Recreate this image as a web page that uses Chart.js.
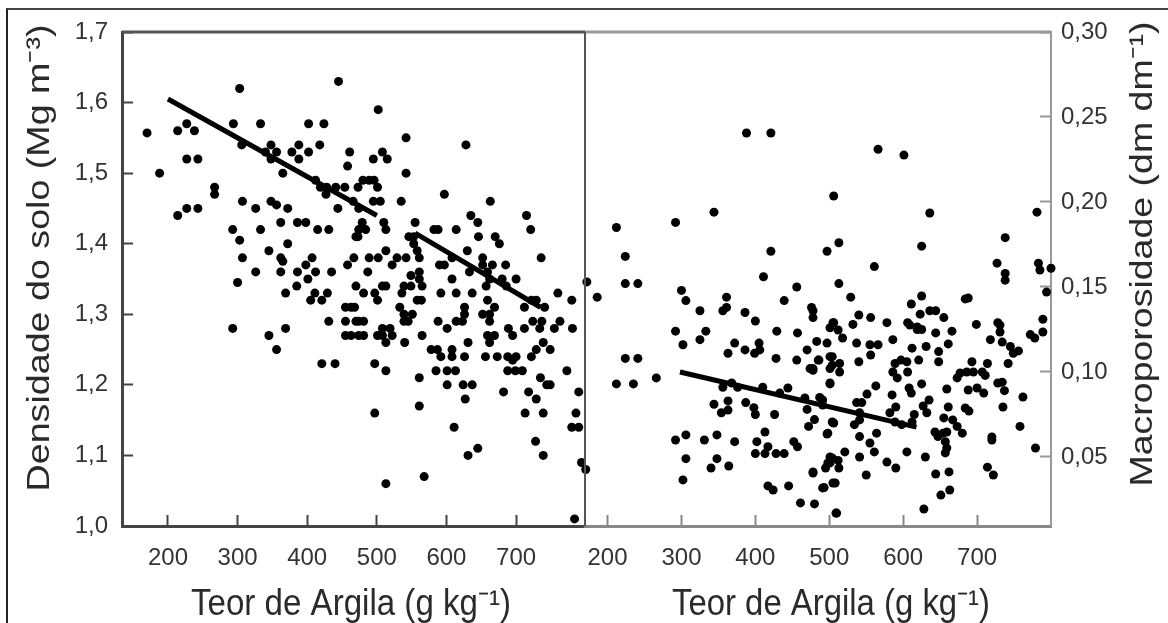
<!DOCTYPE html>
<html>
<head>
<meta charset="utf-8">
<title>Densidade do solo e macroporosidade</title>
<script src="https://cdn.jsdelivr.net/npm/chart.js@4/dist/chart.umd.min.js"></script>
<style>
html, body { margin: 0; padding: 0; background: #fff; overflow: hidden; }
#frame { position: absolute; left: 6px; top: 8px; width: 1162px; height: 615px; border-left: 2px solid #222; border-top: 2px solid #444; box-sizing: border-box; }
#chart { position: absolute; left: 0; top: 0; filter: blur(0.6px); }
</style>
</head>
<body>
<div id="frame"></div>
<canvas id="chart" width="1168" height="623"></canvas>
<script>
// left panel
var argilaDensidade = [
  170,188,214,227,238,227,243,267,267,294,
  303,333,306,348,340,356,348,378,388,388,
  402,424,402,418,365,412,428,307,326,348,
  356,372,227,243,214,444,466,474,293,333,
  362,386,398,415,431,303,372,307,345,362,
  365,407,398,326,362,386,412,435,401,300,
  385,369,411,429,405,421,455,468,431,455,
  470,455,474,293,369,345,356,421,440,467,
  458,470,470,445,502,461,458,495,508,515,
  542,542,628,597,663,535,495,505,419,441,
  454,473,480,489,496,501,427,479,510,484,
  474,473,513,555,582,588,614,635,645,646,
  715,721,670,676,630,736,546,553,553,558,
  561,513,489,502,522,529,542,487,590,597,
  608,652,666,685,652,608,561,549,549,561,
  565,539,508,513,633,659,680,700,662,657,
  686,481,497,501,536,558,564,592,614,637,
  463,533,539,551,545,539,481,474,481,463,
  501,508,519,508,522,513,540,565,659,669,
  626,626,623,614,588,601,652,662,662,712,
  722,729,741,760,780,724,737,734,712,763,
  755,781,689,695,659,669,631,662,739,729,
  749,722,656,673,688,700,695,626,608,608,
  592,578,587,585,601,613,688,699,709,773,
  735,744,749,561,601,624,637,627,682,718,
  729,790,497,513,561,497,713,739,786,780,
  790,611,728,739,645,631,794,800,568,513,
  784
];
var densidade = [
  1.557,1.50,1.56,1.57,1.56,1.52,1.52,1.48,1.47,1.57,
  1.62,1.57,1.54,1.54,1.53,1.53,1.52,1.53,1.54,1.52,
  1.57,1.57,1.53,1.54,1.50,1.49,1.48,1.46,1.45,1.46,
  1.455,1.45,1.45,1.45,1.44,1.45,1.46,1.45,1.42,1.42,
  1.43,1.43,1.43,1.42,1.42,1.405,1.40,1.38,1.39,1.38,
  1.375,1.38,1.37,1.36,1.36,1.36,1.36,1.36,1.35,1.345,
  1.34,1.33,1.33,1.33,1.32,1.32,1.31,1.31,1.29,1.29,
  1.29,1.27,1.27,1.28,1.28,1.27,1.25,1.23,1.23,1.38,
  1.37,1.34,1.41,1.63,1.59,1.53,1.51,1.52,1.53,1.52,
  1.55,1.50,1.54,1.47,1.46,1.46,1.46,1.46,1.48,1.48,
  1.48,1.48,1.49,1.49,1.49,1.48,1.47,1.43,1.43,1.42,
  1.42,1.41,1.42,1.43,1.42,1.42,1.42,1.44,1.43,1.41,
  1.44,1.42,1.41,1.40,1.39,1.38,1.41,1.41,1.40,1.39,
  1.38,1.39,1.38,1.38,1.37,1.38,1.38,1.36,1.37,1.37,
  1.38,1.38,1.37,1.37,1.37,1.35,1.36,1.355,1.34,1.35,
  1.34,1.34,1.34,1.34,1.36,1.36,1.35,1.35,1.35,1.34,
  1.34,1.33,1.33,1.32,1.33,1.32,1.32,1.33,1.33,1.33,
  1.31,1.31,1.30,1.30,1.29,1.29,1.29,1.29,1.27,1.27,
  1.27,1.28,1.28,1.27,1.27,1.26,1.26,1.27,1.32,1.31,
  1.31,1.30,1.29,1.29,1.29,1.28,1.30,1.30,1.29,1.31,
  1.32,1.32,1.31,1.33,1.32,1.29,1.29,1.28,1.28,1.29,
  1.28,1.28,1.28,1.27,1.27,1.27,1.26,1.26,1.26,1.25,
  1.25,1.24,1.24,1.24,1.24,1.24,1.235,1.24,1.25,1.24,
  1.24,1.25,1.25,1.22,1.22,1.22,1.22,1.22,1.22,1.22,
  1.21,1.20,1.20,1.21,1.20,1.20,1.20,1.18,1.19,1.19,
  1.18,1.19,1.23,1.22,1.17,1.16,1.16,1.16,1.16,1.14,
  1.14,1.14,1.12,1.10,1.11,1.10,1.09,1.08,1.07,1.06,
  1.01
];
// right panel
var argilaMacro = [
  388,421,344,292,212,224,224,241,300,306,
  186,172,411,421,456,439,361,361,325,356,
  386,476,400,478,478,501,505,292,302,333,
  325,372,363,386,405,406,399,429,457,428,
  456,483,497,470,486,474,478,501,501,501,
  224,241,266,212,235,356,368,376,410,433,
  444,467,344,363,363,354,387,398,400,426,
  470,480,472,487,491,504,498,306,292,331,
  348,372,402,413,417,400,413,428,439,452,
  457,306,348,340,364,302,417,424,445,461,
  480,491,478,495,501,505,509,501,566,601,
  506,636,781,513,497,625,738,561,727,783,
  785,800,738,738,513,529,794,625,611,684,
  688,623,636,644,655,540,556,578,532,506,
  606,619,699,728,789,731,731,772,778,789,
  666,644,625,609,619,512,518,718,734,745,
  756,749,742,586,537,555,566,556,540,612,
  631,661,648,648,621,597,589,605,586,592,
  606,504,504,514,514,485,478,501,693,714,
  686,695,707,677,711,673,734,728,737,762,
  735,758,720,720,779,659,625,608,611,563,
  551,585,537,544,491,688,700,709,684,689,
  661,635,627,632,590,582,615,612,541,534,
  541,589,598,655,667,673,680,643,654,647,
  659,657,659,657,564,541,555,561,605,630,
  578,590,521,541,506,497,504,512,498,513,
  478,550,508,493,510,644,662,663,651,628,
  714,722
];
var macroporosidade = [
  0.2406,0.2406,0.194,0.188,0.185,0.168,0.152,0.152,0.148,0.142,
  0.144,0.153,0.156,0.171,0.150,0.142,0.144,0.138,0.136,0.136,
  0.135,0.138,0.130,0.136,0.132,0.126,0.129,0.124,0.116,0.124,
  0.119,0.117,0.111,0.113,0.117,0.113,0.111,0.124,0.123,0.108,
  0.107,0.118,0.117,0.113,0.107,0.102,0.102,0.109,0.102,0.0935,
  0.108,0.108,0.0965,0.093,0.093,0.091,0.0935,0.091,0.091,0.0876,
  0.0906,0.0847,0.081,0.083,0.0776,0.076,0.082,0.079,0.075,0.075,
  0.078,0.072,0.068,0.085,0.0806,0.0706,0.064,0.063,0.06,0.06,
  0.063,0.059,0.059,0.0647,0.056,0.052,0.052,0.052,0.052,0.059,
  0.056,0.049,0.049,0.0435,0.0447,0.0365,0.033,0.0306,0.033,0.023,
  0.0224,0.0318,0.0412,0.0435,0.05,0.0347,0.017,0.0465,0.231,0.2276,
  0.2035,0.1935,0.194,0.176,0.171,0.174,0.179,0.162,0.164,0.164,
  0.16,0.161,0.158,0.154,0.152,0.144,0.147,0.1447,0.14,0.143,
  0.1435,0.134,0.136,0.136,0.132,0.1335,0.132,0.129,0.128,0.129,
  0.129,0.1265,0.128,0.129,0.131,0.1276,0.1235,0.122,0.12,0.1235,
  0.124,0.123,0.125,0.1276,0.125,0.1247,0.12,0.119,0.1176,0.115,
  0.1124,0.111,0.105,0.119,0.117,0.116,0.116,0.11,0.106,0.114,
  0.115,0.1165,0.112,0.106,0.107,0.107,0.105,0.106,0.10,0.0965,
  0.10,0.109,0.104,0.105,0.10,0.107,0.101,0.093,0.106,0.105,
  0.10,0.10,0.10,0.0994,0.098,0.0965,0.094,0.0935,0.089,0.0853,
  0.0794,0.068,0.0618,0.06,0.0553,0.09,0.093,0.0906,0.0876,0.0918,
  0.087,0.0865,0.082,0.082,0.0835,0.0894,0.0906,0.0876,0.0788,0.077,
  0.0794,0.0835,0.08,0.076,0.0794,0.076,0.075,0.0706,0.076,0.069,
  0.0718,0.0706,0.069,0.073,0.0718,0.068,0.064,0.0647,0.064,0.062,
  0.0647,0.059,0.0553,0.0524,0.064,0.062,0.0582,0.053,0.053,0.05,
  0.047,0.0435,0.053,0.05,0.07,0.0635,0.0494,0.048,0.0465,0.0435,
  0.0406,0.0394,0.0347,0.032,0.017,0.04,0.0412,0.0306,0.0276,0.0194,
  0.044,0.0394
];
// fitted lines (left one has a break in the original)
var retaDensidadeX = [200, 500, 530, 555, 735];
var retaDensidadeY = [1.605, 1.44, null, 1.415, 1.31];
var retaMacroX = [298, 618];
var retaMacroY = [0.10, 0.0676];

var xTicks = [200, 300, 400, 500, 600, 700];
var densidadeTicks = [1.0, 1.1, 1.2, 1.3, 1.4, 1.5, 1.6, 1.7];
var macroTicks = [0.05, 0.10, 0.15, 0.20, 0.25, 0.30];

var tituloX = 'Teor de Argila (g kg\u207B\u00B9)';
var tituloDensidade = 'Densidade do solo (Mg m\u207B\u00B3)';
var tituloMacro = 'Macroporosidade (dm dm\u207B\u00B9)';

function pairs(xs, ys) {
  return xs.map(function (x, i) {
    return { x: x, y: ys[i] };
  });
}

function dots(xs, ys, xAxis, yAxis) {
  return {
    data: pairs(xs, ys),
    xAxisID: xAxis,
    yAxisID: yAxis,
    backgroundColor: '#000',
    borderWidth: 0,
    pointRadius: 4.5,
    clip: false
  };
}

function reta(xs, ys, xAxis, yAxis) {
  return {
    data: pairs(xs, ys),
    xAxisID: xAxis,
    yAxisID: yAxis,
    showLine: true,
    spanGaps: false,
    borderColor: '#000',
    borderWidth: 5,
    pointRadius: 0
  };
}

function fixTicks(list) {
  return function (scale) {
    scale.ticks = list.map(function (v) {
      return { value: v };
    });
  };
}

// no extra room for the outer tick labels, the plot box is fixed
function fitBox(scale, width, height) {
  if (width) scale.width = width;
  if (height) scale.height = height;
  scale.paddingTop = 0;
  scale.paddingBottom = 0;
  scale.paddingLeft = 0;
  scale.paddingRight = 0;
}

function xScale(weight, color) {
  return {
    type: 'linear',
    position: 'bottom',
    stack: 'argila',
    stackWeight: weight,
    afterBuildTicks: fixTicks(xTicks),
    afterFit: function (scale) { fitBox(scale, 0, 97); },
    border: { color: color, width: 3 },
    grid: { drawOnChartArea: false, tickLength: -11, tickColor: color, tickWidth: 2 },
    ticks: { color: '#333', font: { size: 24 }, padding: 29, maxRotation: 0, autoSkip: false }
  };
}

// the source image is stretched, so titles are fitted to a given length
function drawTitle(ctx, text, x, y, angle, size, length) {
  ctx.save();
  ctx.translate(x, y);
  ctx.rotate(angle);
  ctx.font = size + 'px "Liberation Sans"';
  ctx.scale(length / ctx.measureText(text).width, 1);
  ctx.fillStyle = '#2a2a2a';
  ctx.textAlign = 'center';
  ctx.textBaseline = 'alphabetic';
  ctx.fillText(text, 0, 0);
  ctx.restore();
}

function strokeLine(ctx, color, width, x1, y1, x2, y2) {
  ctx.lineWidth = width;
  ctx.strokeStyle = color;
  ctx.beginPath();
  ctx.moveTo(x1, y1);
  ctx.lineTo(x2, y2);
  ctx.stroke();
}

// top edge, panel divider and axis titles
var panelFrame = {
  id: 'panelFrame',
  afterDraw: function (chart) {
    var ctx = chart.ctx;
    var area = chart.chartArea;
    var split = chart.scales.x2.left;
    ctx.save();
    strokeLine(ctx, '#555', 3, area.left, area.top, split, area.top);
    strokeLine(ctx, '#999', 3, split, area.top, area.right, area.top);
    strokeLine(ctx, '#555', 2, split, area.top, split, area.bottom);
    ctx.restore();
    drawTitle(ctx, tituloDensidade, 49, 258, -Math.PI / 2, 32, 467);
    drawTitle(ctx, tituloMacro, 1152, 254, -Math.PI / 2, 32, 465);
    drawTitle(ctx, tituloX, 351, 615, 0, 36, 320);
    drawTitle(ctx, tituloX, 831, 615, 0, 36, 318);
  }
};

Chart.defaults.font.family = '"Liberation Sans", Arial, sans-serif';

var ctx = document.getElementById('chart').getContext('2d');
var myChart = new Chart(ctx, {
  type: 'scatter',
  data: {
    datasets: [
      dots(argilaDensidade, densidade, 'x1', 'y1'),
      dots(argilaMacro, macroporosidade, 'x2', 'y2'),
      reta(retaDensidadeX, retaDensidadeY, 'x1', 'y1'),
      reta(retaMacroX, retaMacroY, 'x2', 'y2')
    ]
  },
  plugins: [panelFrame],
  options: {
    responsive: false,
    animation: false,
    layout: { padding: { top: 32 } },
    plugins: { legend: { display: false }, tooltip: { enabled: false } },
    scales: {
      x1: Object.assign(xScale(463, '#444'), { min: 134, max: 799 }),
      x2: Object.assign(xScale(466, '#888'), { min: 169.5, max: 800 }),
      y1: {
        type: 'linear',
        position: 'left',
        min: 1.0,
        max: 1.7,
        afterBuildTicks: fixTicks(densidadeTicks),
        afterFit: function (scale) { fitBox(scale, 122, 0); },
        border: { color: '#444', width: 3 },
        grid: { drawOnChartArea: false, tickLength: -11, tickColor: '#444', tickWidth: 2 },
        ticks: {
          color: '#333',
          font: { size: 24 },
          padding: 25,
          callback: function (v) { return v.toFixed(1).replace('.', ','); }
        }
      },
      y2: {
        type: 'linear',
        position: 'right',
        min: 0.0094,
        max: 0.30,
        afterBuildTicks: fixTicks(macroTicks),
        afterFit: function (scale) { fitBox(scale, 117, 0); },
        border: { color: '#999', width: 2 },
        grid: { drawOnChartArea: false, tickLength: -11, tickColor: '#999', tickWidth: 2 },
        ticks: {
          color: '#333',
          font: { size: 24 },
          padding: 21,
          callback: function (v) { return v.toFixed(2).replace('.', ','); }
        }
      }
    }
  }
});
</script>
</body>
</html>
